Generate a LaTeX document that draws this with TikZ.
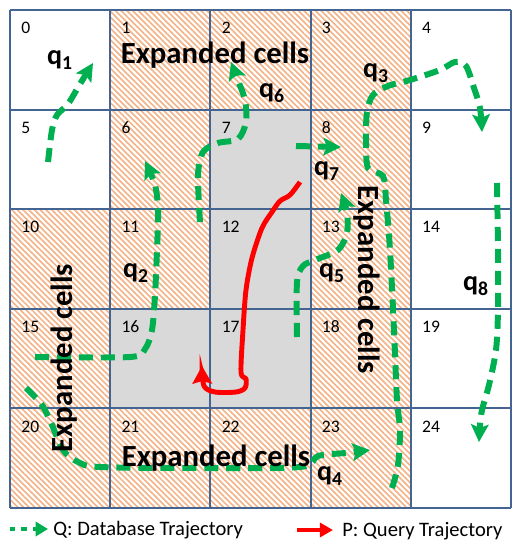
\documentclass[tikz,border=0pt]{standalone}
\usepackage{fontspec}
\setmainfont{Carlito}
\usepackage{xcolor}
\usetikzlibrary{arrows.meta,patterns.meta}
\definecolor{gridblue}{RGB}{68,100,145}
\definecolor{trajgreen}{RGB}{0,176,80}
\definecolor{hatchorange}{RGB}{244,177,131}
\definecolor{cellgray}{RGB}{217,217,217}

\begin{document}
\begin{tikzpicture}[
  x=0.02cm, y=-0.02cm,
  cellnum/.style={anchor=west, inner sep=0pt, font=\fontsize{10}{12}\selectfont},
  expand/.style={inner sep=0pt, font=\bfseries\fontsize{17.5}{20}\selectfont},
  qlab/.style={inner sep=0pt, font=\bfseries\fontsize{16}{18}\selectfont},
  legendtext/.style={anchor=west, inner sep=0pt, font=\fontsize{11.7}{14}\selectfont},
  gridline/.style={gridblue, line width=1.2pt},
  hatched/.style={pattern={Lines[angle=-45, distance=2.3pt, line width=0.9pt]},
                  pattern color=hatchorange},
  traj/.style={trajgreen, line width=3.4pt, dash pattern=on 8pt off 4.5pt,
               -{Stealth[length=10pt, width=10pt, inset=2pt]}},
  query/.style={red, line width=2.8pt, -{Stealth[length=10pt, width=11pt, inset=1.5pt]}},
]
  \useasboundingbox (0,0) rectangle (513,541);
  \fill[white] (0,0) rectangle (513,541);

  \foreach \i [evaluate=\i as \cx using {10+100.2*mod(\i,5)},
               evaluate=\i as \cy using {10+99.6*floor(\i/5)}]
    in {1,2,3,6,8,10,11,13,15,18,20,21,22,23}
    \fill[hatched] (\cx,\cy) rectangle ++(100.2,99.6);
  \foreach \i [evaluate=\i as \cx using {10+100.2*mod(\i,5)},
               evaluate=\i as \cy using {10+99.6*floor(\i/5)}]
    in {7,12,16,17}
    \fill[cellgray] (\cx,\cy) rectangle ++(100.2,99.6);

  \foreach \k in {0,...,5} {
    \draw[gridline] ({10+100.2*\k},10) -- ({10+100.2*\k},508);
    \draw[gridline] (10,{10+99.6*\k}) -- (511,{10+99.6*\k});
  }

  \foreach \i [evaluate=\i as \cx using {21+100.2*mod(\i,5)},
               evaluate=\i as \cy using {28+99.6*floor(\i/5)}]
    in {0,...,24}
    \node[cellnum] (c\i) at (\cx,\cy) {\i};

  \draw[traj] plot[smooth] coordinates {(48,162) (52,130) (57,115) (68,104) (80,84) (93,63)};
  \draw[traj] plot[smooth] coordinates {(200,222) (198,175) (203,152) (218,143) (238,139)
    (246,122) (245,100) (237,78) (231,62)};
  \draw[traj] plot[smooth] coordinates {(35,357) (130,357) (145,349) (152,330) (155,295)
    (157,250) (158,210) (155,185) (145,161)};
  \draw[traj] (296,146) -- (341,147);
  \draw[traj] plot[smooth] coordinates {(297,337) (297,282) (303,266) (315,260) (338,250)
    (347,233) (347,213) (341,193)};
  \draw[traj] plot[smooth] coordinates {(392,488) (398,465) (400,430) (397,400) (394,330)
    (390,250) (386,200) (383,176) (368,168) (366,140) (367,112) (373,95) (388,86) (410,80)
    (440,70) (455,62) (466,66) (474,88) (480,108) (482,132)};
  \draw[traj] plot[smooth] coordinates {(497,183) (498,250) (498,310) (496,350) (489,385)
    (482,410) (480,425) (479,442)};
  \draw[traj] plot[smooth] coordinates {(26,388) (42,405) (52,425) (63,450) (78,462)
    (100,467) (200,468) (300,467) (318,456) (345,453) (370,450)};

  \draw[query] plot[smooth] coordinates {(300,182) (290,195) (280,201) (272,212) (262,228)
    (252,258) (246,290) (243,330) (241,372) (246,379) (245,388) (236,392) (215,392)
    (204,386) (202,366)};

  \node[expand] (topcells) at (215,55) {Expanded cells};
  \node[expand] (botcells) at (216,458) {Expanded cells};
  \node[expand, rotate=90] (leftcells) at (64,358) {Expanded cells};
  \node[expand, rotate=-90] (rightcells) at (367,280) {Expanded cells};

  \node[qlab] (q1) at (60,60) {q\textsubscript{1}};
  \node[qlab] (q2) at (136,273) {q\textsubscript{2}};
  \node[qlab] (q3) at (376,73) {q\textsubscript{3}};
  \node[qlab] (q4) at (330,476) {q\textsubscript{4}};
  \node[qlab] (q5) at (332,273) {q\textsubscript{5}};
  \node[qlab] (q6) at (272,93) {q\textsubscript{6}};
  \node[qlab] (q7) at (327,171) {q\textsubscript{7}};
  \node[qlab] (q8) at (476,286) {q\textsubscript{8}};

  \coordinate (gq0) at (10,529);
  \coordinate (gq1) at (48,529);
  \draw[trajgreen, line width=2.8pt, dash pattern=on 3pt off 3.5pt,
        -{Triangle[length=7pt, width=8pt]}] (gq0) -- (gq1);
  \node[legendtext] (gqtext) at (53,530) {Q: Database Trajectory};
  \coordinate (rp0) at (297,530);
  \coordinate (rp1) at (333,530);
  \draw[red, line width=2.8pt, -{Triangle[length=7.5pt, width=8pt]}] (rp0) -- (rp1);
  \node[legendtext] (rptext) at (342,531) {P: Query Trajectory};
\end{tikzpicture}
\end{document}
